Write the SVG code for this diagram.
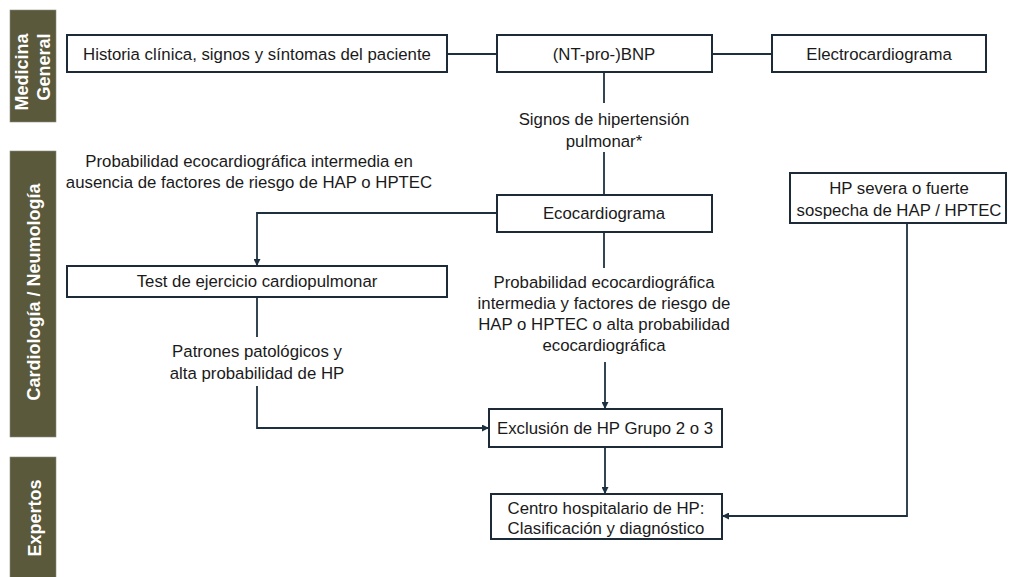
<svg xmlns="http://www.w3.org/2000/svg" width="1011" height="577" viewBox="0 0 1011 577">
<defs>
<marker id="arr" viewBox="0 0 10 10" refX="10" refY="5" markerWidth="7" markerHeight="7" markerUnits="userSpaceOnUse" orient="auto">
<path d="M0,0 L10,5 L0,10 z" fill="#1d3040"/>
</marker>
</defs>
<style>
.bar{fill:#5a593c;stroke:#8a8a80;stroke-width:0.6}
.bt{font-family:"Liberation Sans",Arial,sans-serif;font-weight:bold;font-size:18px;fill:#ffffff;text-anchor:middle}
.box{fill:#ffffff;stroke:#1d2b38;stroke-width:2}
.t{font-family:"Liberation Sans",Arial,sans-serif;font-size:16.8px;fill:#1a1a1a;text-anchor:middle}
.c{fill:none;stroke:#1d3040;stroke-width:1.8}
</style>
<rect width="1011" height="577" fill="#ffffff"/>
<g id="lane-medicina">
<rect class="bar" x="10" y="10" width="46" height="112"/>
<text class="bt" transform="rotate(-90)"><tspan x="-72" y="28">Medicina</tspan><tspan x="-67" y="50">General</tspan></text>
</g>
<g id="lane-cardio">
<rect class="bar" x="10" y="151" width="46" height="286"/>
<text class="bt" transform="translate(40,292) rotate(-90)">Cardiología / Neumología</text>
</g>
<g id="lane-expertos">
<rect class="bar" x="10" y="457" width="46" height="125"/>
<text class="bt" transform="translate(41,518) rotate(-90)">Expertos</text>
</g>
<g id="connectors">
<line class="c" x1="447" y1="54" x2="497" y2="54"/>
<line class="c" x1="712" y1="54" x2="772" y2="54"/>
<line class="c" x1="604" y1="72" x2="604" y2="103"/>
<line class="c" x1="604" y1="152" x2="604" y2="195"/>
<polyline class="c" points="497,213 257,213 257,266" marker-end="url(#arr)"/>
<line class="c" x1="604" y1="232" x2="604" y2="268"/>
<line class="c" x1="605" y1="362" x2="605" y2="409" marker-end="url(#arr)"/>
<line class="c" x1="257" y1="297" x2="257" y2="337"/>
<polyline class="c" points="257,386 257,428 489,428" marker-end="url(#arr)"/>
<line class="c" x1="605" y1="447" x2="605" y2="494" marker-end="url(#arr)"/>
<polyline class="c" points="907,223 907,516 722,516" marker-end="url(#arr)"/>
<text class="t" x="604" y="125">Signos de hipertensión</text>
<text class="t" x="604" y="147">pulmonar*</text>
<text class="t" x="249" y="167">Probabilidad ecocardiográfica intermedia en</text>
<text class="t" x="249" y="188">ausencia de factores de riesgo de HAP o HPTEC</text>
<text class="t" x="604" y="288">Probabilidad ecocardiográfica</text>
<text class="t" x="604" y="309">intermedia y factores de riesgo de</text>
<text class="t" x="604" y="330">HAP o HPTEC o alta probabilidad</text>
<text class="t" x="604" y="351">ecocardiográfica</text>
<text class="t" x="257" y="357">Patrones patológicos y</text>
<text class="t" x="257" y="379">alta probabilidad de HP</text>
</g>
<g id="historia">
<rect class="box" x="67" y="35" width="380" height="37"/>
<text class="t" x="257" y="60">Historia clínica, signos y síntomas del paciente</text>
</g>
<g id="bnp">
<rect class="box" x="497" y="35" width="215" height="37"/>
<text class="t" x="604" y="60">(NT-pro-)BNP</text>
</g>
<g id="ecg">
<rect class="box" x="772" y="35" width="214" height="37"/>
<text class="t" x="879" y="60">Electrocardiograma</text>
</g>
<g id="eco">
<rect class="box" x="497" y="195" width="215" height="37"/>
<text class="t" x="604" y="219">Ecocardiograma</text>
</g>
<g id="hp-severa">
<rect class="box" x="790" y="173" width="216" height="50"/>
<text class="t" x="899" y="194">HP severa o fuerte</text>
<text class="t" x="899" y="216">sospecha de HAP / HPTEC</text>
</g>
<g id="test">
<rect class="box" x="67" y="266" width="380" height="31"/>
<text class="t" x="257" y="287">Test de ejercicio cardiopulmonar</text>
</g>
<g id="exclusion">
<rect class="box" x="489" y="409" width="233" height="38"/>
<text class="t" x="605" y="434">Exclusión de HP Grupo 2 o 3</text>
</g>
<g id="centro">
<rect class="box" x="491" y="494" width="231" height="45"/>
<text class="t" x="606" y="514">Centro hospitalario de HP:</text>
<text class="t" x="606" y="534">Clasificación y diagnóstico</text>
</g>
</svg>
